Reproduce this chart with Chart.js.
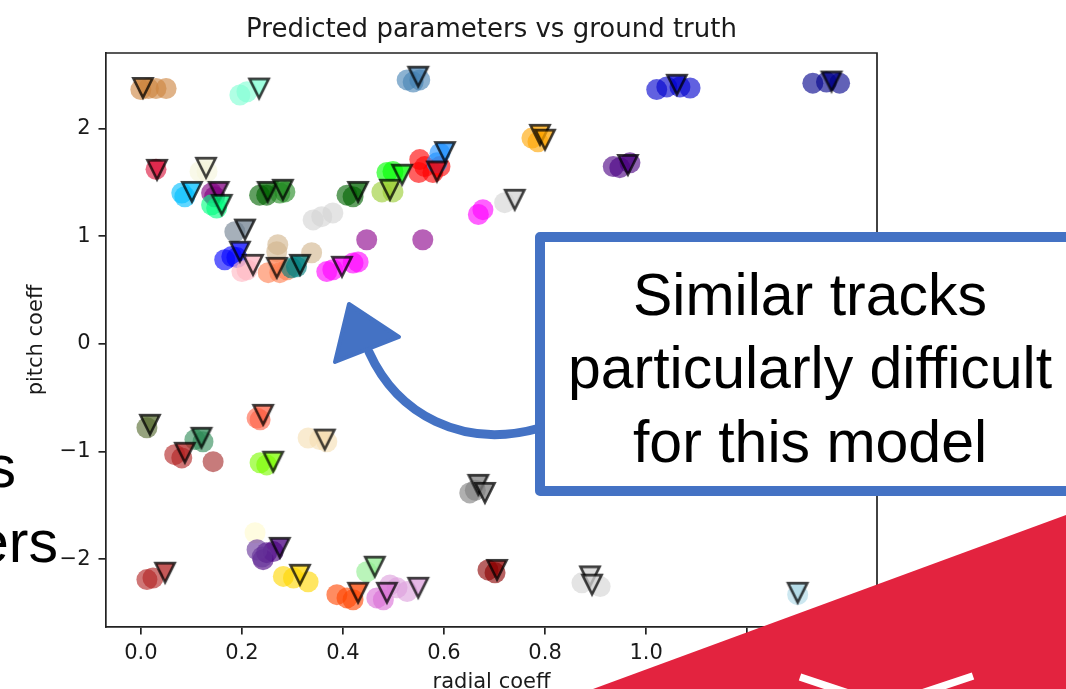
<!DOCTYPE html>
<html>
<head>
<meta charset="utf-8">
<script src="https://cdn.jsdelivr.net/npm/chart.js@4.4.1/dist/chart.umd.min.js"></script>
<style>
  html, body { margin: 0; padding: 0; background: #fff; }
  canvas { display: block; }
</style>
</head>
<body>
<canvas id="c" width="1066" height="689"></canvas>
<script>
// Ground-truth parameters (one triangle per track)
const truthX = [0.004, 0.234, 0.549, 0.032, 0.129, 0.101, 0.154, 0.16, 0.251, 0.281,
  0.43, 0.493, 0.517, 0.586, 0.602, 0.206, 0.196, 0.222, 0.269, 0.315,
  0.398, 0.74, 0.79, 0.80, 0.964, 1.061, 1.367,
  0.018, 0.12, 0.087, 0.242, 0.262, 0.364, 0.275, 0.315, 0.048, 0.463,
  0.43, 0.487, 0.549, 0.668, 0.681, 0.705, 0.889, 0.893, 1.30];
const truthY = [2.375, 2.37, 2.48, 1.615, 1.634, 1.41, 1.41, 1.29, 1.41, 1.43,
  1.41, 1.43, 1.57, 1.60, 1.78, 1.06, 0.855, 0.733, 0.705, 0.733,
  0.715, 1.337, 1.94, 1.895, 1.66, 2.405, 2.435,
  -0.752, -0.873, -1.012, -0.66, -1.095, -0.89, -1.895, -2.145, -2.126, -2.07,
  -2.312, -2.312, -2.266, -1.31, -1.385, -2.10, -2.16, -2.237, -2.312];
const truthColor = ['peru', 'aquamarine', 'steelblue', 'crimson', 'beige', 'deepskyblue', 'purple', 'springgreen', 'darkgreen', 'forestgreen',
  'darkgreen', 'yellowgreen', 'lime', 'red', 'dodgerblue', 'slategrey', 'blue', 'lightpink', 'coral', 'teal',
  'magenta', 'lightgrey', 'orange', 'orange', 'indigo', 'mediumblue', 'darkblue',
  'darkolivegreen', 'seagreen', 'firebrick', 'tomato', 'lawngreen', 'wheat', 'indigo', 'gold', 'firebrick', 'lightgreen',
  'orangered', 'orchid', 'plum', 'grey', 'grey', 'darkred', 'lightgrey', 'lightgrey', 'lightblue'];

// Model predictions (circles)
const predX = [0.0, 0.015, 0.03, 0.05,
  0.196, 0.21,
  0.527, 0.539, 0.552,
  0.03,
  0.117, 0.131,
  0.087, 0.081,
  0.14, 0.146,
  0.14, 0.15,
  0.235, 0.249,
  0.275, 0.285,
  0.408, 0.42,
  0.477, 0.499,
  0.487, 0.499,
  0.552, 0.55, 0.562, 0.578, 0.592,
  0.592, 0.586,
  0.341, 0.358, 0.38,
  0.186,
  0.166, 0.18, 0.19,
  0.2, 0.21,
  0.271, 0.269, 0.338,
  0.252, 0.275, 0.289,
  0.298, 0.308,
  0.368, 0.38, 0.42, 0.43,
  0.447, 0.558,
  0.668, 0.677,
  0.72,
  0.774, 0.786,
  0.935, 0.968, 0.948,
  1.021, 1.041, 1.087, 1.067,
  1.33, 1.357, 1.383,
  0.012,
  0.107, 0.123,
  0.067, 0.081,
  0.143,
  0.23, 0.236,
  0.236, 0.249,
  0.331, 0.354, 0.368,
  0.226,
  0.249, 0.262, 0.242,
  0.23, 0.24,
  0.282, 0.302, 0.331,
  0.012, 0.024,
  0.447,
  0.388, 0.408, 0.42,
  0.467, 0.48,
  0.507, 0.527, 0.493,
  0.651, 0.662,
  0.687, 0.701,
  0.873, 0.909,
  1.30];
const predY = [2.36, 2.37, 2.37, 2.37,
  2.31, 2.34,
  2.45, 2.43, 2.45,
  1.62,
  1.60, 1.60,
  1.365, 1.40,
  1.40, 1.365,
  1.29, 1.26,
  1.38, 1.38,
  1.40, 1.41,
  1.38, 1.365,
  1.41, 1.41,
  1.59, 1.60,
  1.71, 1.59, 1.645, 1.59, 1.645,
  1.77, 1.68,
  1.15, 1.18, 1.215,
  1.04,
  0.78, 0.81, 0.80,
  0.67, 0.687,
  0.92, 0.855, 0.845,
  0.66, 0.66, 0.687,
  0.705, 0.715,
  0.67, 0.687, 0.75, 0.76,
  0.966, 0.966,
  1.20, 1.245,
  1.31,
  1.91, 1.875,
  1.645, 1.68, 1.635,
  2.36, 2.385, 2.375, 2.385,
  2.42, 2.43, 2.42,
  -0.78,
  -0.89, -0.91,
  -1.03, -1.06,
  -1.095,
  -0.69, -0.706,
  -1.105, -1.125,
  -0.875, -0.89, -0.91,
  -1.755,
  -1.94, -1.93, -2.005,
  -1.913, -1.98,
  -2.16, -2.175, -2.21,
  -2.19, -2.175,
  -2.117,
  -2.33, -2.36, -2.377,
  -2.36, -2.377,
  -2.266, -2.30, -2.24,
  -1.385, -1.36,
  -2.10, -2.127,
  -2.22, -2.255,
  -2.33];
const predColor = ['peru', 'peru', 'peru', 'peru',
  'aquamarine', 'aquamarine',
  'steelblue', 'steelblue', 'steelblue',
  'crimson',
  'beige', 'beige',
  'deepskyblue', 'deepskyblue',
  'purple', 'purple',
  'springgreen', 'springgreen',
  'darkgreen', 'darkgreen',
  'forestgreen', 'forestgreen',
  'darkgreen', 'darkgreen',
  'yellowgreen', 'yellowgreen',
  'lime', 'lime',
  'red', 'red', 'red', 'red', 'red',
  'dodgerblue', 'dodgerblue',
  'lightgrey', 'lightgrey', 'lightgrey',
  'slategrey',
  'blue', 'blue', 'blue',
  'lightpink', 'lightpink',
  'tan', 'tan', 'tan',
  'coral', 'coral', 'coral',
  'teal', 'teal',
  'magenta', 'magenta', 'magenta', 'magenta',
  'darkmagenta', 'darkmagenta',
  'magenta', 'magenta',
  'lightgrey',
  'orange', 'orange',
  'indigo', 'indigo', 'indigo',
  'mediumblue', 'mediumblue', 'mediumblue', 'mediumblue',
  'darkblue', 'darkblue', 'darkblue',
  'darkolivegreen',
  'seagreen', 'seagreen',
  'firebrick', 'firebrick',
  'brown',
  'tomato', 'tomato',
  'lawngreen', 'lawngreen',
  'wheat', 'wheat', 'wheat',
  'lemonchiffon',
  'indigo', 'indigo', 'indigo',
  'rebeccapurple', 'rebeccapurple',
  'gold', 'gold', 'gold',
  'firebrick', 'firebrick',
  'lightgreen',
  'orangered', 'orangered', 'orangered',
  'orchid', 'orchid',
  'plum', 'plum', 'plum',
  'grey', 'grey',
  'darkred', 'darkred',
  'lightgrey', 'lightgrey',
  'lightblue'];

// Axis limits and tick positions
const xRange = [-0.069, 1.457];
const yRange = [-2.63, 2.70];
const xTicks = [0.0, 0.2, 0.4, 0.6, 0.8, 1.0, 1.2, 1.4];
const yTicks = [-2, -1, 0, 1, 2];

const TEXT = '#1a1a1a';
const LINE = '#222';
const MPL_FONT = 'DejaVu Sans';
const SLIDE_FONT = '"Liberation Sans", Arial, sans-serif';
const ACCENT = '#4472C4';

// named colour -> rgba with alpha
const probe = document.createElement('canvas').getContext('2d');
function withAlpha(name, a) {
  probe.fillStyle = '#000';
  probe.fillStyle = name;
  const h = probe.fillStyle;
  const r = parseInt(h.slice(1, 3), 16), g = parseInt(h.slice(3, 5), 16), b = parseInt(h.slice(5, 7), 16);
  return `rgba(${r},${g},${b},${a})`;
}

// downward triangle marker with black edge, like matplotlib's 'v'
const markerCache = {};
function truthMarker(color) {
  if (markerCache[color]) return markerCache[color];
  const s = 32, c = document.createElement('canvas');
  c.width = s; c.height = s;
  const g = c.getContext('2d');
  const h = 9.6, cx = s / 2, cy = s / 2;
  g.globalAlpha = 0.75;
  g.beginPath();
  g.moveTo(cx - h, cy - h);
  g.lineTo(cx + h, cy - h);
  g.lineTo(cx, cy + h);
  g.closePath();
  g.fillStyle = color;
  g.fill();
  g.lineWidth = 2.6;
  g.lineJoin = 'miter';
  g.strokeStyle = '#000';
  g.stroke();
  markerCache[color] = c;
  return c;
}

const truthPoints = truthX.map((x, i) => ({ x, y: truthY[i] }));
const predPoints = predX.map((x, i) => ({ x, y: predY[i] }));

// top and right spines
const framePlugin = {
  id: 'frame',
  afterDatasetsDraw(chart) {
    const { ctx, chartArea: a } = chart;
    ctx.save();
    ctx.strokeStyle = LINE;
    ctx.lineWidth = 1.7;
    ctx.beginPath();
    ctx.moveTo(a.left, a.top);
    ctx.lineTo(a.right, a.top);
    ctx.lineTo(a.right, a.bottom);
    ctx.stroke();
    ctx.restore();
  }
};

// slide elements around the figure: text fragments, callout box, arrow, corner banner
const slidePlugin = {
  id: 'slide',
  afterDraw(chart) {
    const ctx = chart.ctx;
    ctx.save();

    // body text running off the left edge
    ctx.fillStyle = '#000';
    ctx.font = '59px ' + SLIDE_FONT;
    ctx.textAlign = 'right';
    ctx.textBaseline = 'alphabetic';
    ctx.fillText('s', 16, 487);
    ctx.fillText('ers', 58, 562);

    // callout box
    ctx.fillStyle = '#fff';
    ctx.fillRect(540, 237, 540, 254);
    ctx.strokeStyle = ACCENT;
    ctx.lineWidth = 10;
    ctx.lineJoin = 'round';
    ctx.strokeRect(540, 237, 545, 254);

    ctx.fillStyle = '#000';
    ctx.textAlign = 'center';
    ctx.font = '59px ' + SLIDE_FONT;
    ctx.fillText('Similar tracks', 810, 315);
    ctx.fillText('particularly difficult', 810, 388);
    ctx.fillText('for this model', 810, 462);

    // curved arrow from the box into the cluster
    ctx.strokeStyle = ACCENT;
    ctx.lineWidth = 9;
    ctx.lineCap = 'round';
    ctx.beginPath();
    ctx.moveTo(540, 428);
    ctx.bezierCurveTo(462, 450, 397, 414, 369, 352);
    ctx.stroke();
    ctx.fillStyle = ACCENT;
    ctx.lineWidth = 4;
    ctx.beginPath();
    ctx.moveTo(349, 304);
    ctx.lineTo(399, 337);
    ctx.lineTo(335, 362);
    ctx.closePath();
    ctx.fill();
    ctx.stroke();

    // red corner banner
    ctx.fillStyle = '#E3233F';
    ctx.beginPath();
    ctx.moveTo(593, 689);
    ctx.lineTo(1066, 515);
    ctx.lineTo(1066, 689);
    ctx.closePath();
    ctx.fill();
    ctx.strokeStyle = '#fff';
    ctx.lineWidth = 7.5;
    ctx.lineCap = 'butt';
    ctx.beginPath();
    ctx.moveTo(800, 677);
    ctx.lineTo(866, 699);
    ctx.moveTo(973, 676);
    ctx.lineTo(907, 698);
    ctx.stroke();

    ctx.restore();
  }
};

const minus = v => (v < 0 ? '\u2212' + Math.abs(v) : String(v));

new Chart(document.getElementById('c'), {
  type: 'scatter',
  data: {
    datasets: [
      {
        label: 'ground truth',
        data: truthPoints,
        order: 0,
        pointRadius: 10,
        pointStyle: ctx => (ctx.dataIndex === undefined ? 'triangle' : truthMarker(truthColor[ctx.dataIndex])),
        pointBackgroundColor: 'rgba(0,0,0,0)',
        pointBorderWidth: 0
      },
      {
        label: 'predicted',
        data: predPoints,
        order: 1,
        pointStyle: 'circle',
        pointRadius: 10.5,
        pointBorderWidth: 0,
        pointBackgroundColor: ctx => (ctx.dataIndex === undefined ? 'rgba(0,0,0,0)' : withAlpha(predColor[ctx.dataIndex], 0.62))
      }
    ]
  },
  options: {
    responsive: false,
    animation: false,
    devicePixelRatio: 1,
    events: [],
    layout: { padding: { left: 0, right: 189, top: 0, bottom: 0 } },
    plugins: {
      legend: { display: false },
      tooltip: { enabled: false },
      title: {
        display: true,
        fullSize: false,
        text: 'Predicted parameters vs ground truth',
        color: TEXT,
        font: { family: MPL_FONT, size: 26, weight: 'normal', lineHeight: 1.2 },
        padding: { top: 15, bottom: 6.8 }
      }
    },
    scales: {
      x: {
        type: 'linear',
        min: xRange[0],
        max: xRange[1],
        afterBuildTicks: s => { s.ticks = xTicks.map(v => ({ value: v })); },
        afterFit: s => { s.height = 62; },
        ticks: {
          callback: v => v.toFixed(1),
          color: TEXT,
          font: { family: MPL_FONT, size: 21 },
          padding: 6,
          maxRotation: 0,
          autoSkip: false
        },
        grid: { display: true, drawOnChartArea: false, drawTicks: true, tickLength: 7.5, tickWidth: 1.7, tickColor: LINE, color: LINE, lineWidth: 1.7 },
        border: { display: true, color: LINE, width: 1.7 },
        title: { display: true, text: 'radial coeff', color: TEXT, font: { family: MPL_FONT, size: 21, lineHeight: 0.65 }, padding: { top: 0, bottom: 0 } }
      },
      y: {
        type: 'linear',
        min: yRange[0],
        max: yRange[1],
        afterBuildTicks: s => { s.ticks = yTicks.map(v => ({ value: v })); },
        afterFit: s => { s.width = 106; },
        ticks: {
          callback: v => minus(v),
          color: TEXT,
          font: { family: MPL_FONT, size: 21 },
          padding: 8,
          autoSkip: false
        },
        grid: { display: true, drawOnChartArea: false, drawTicks: true, tickLength: 7.5, tickWidth: 1.7, tickColor: LINE, color: LINE, lineWidth: 1.7 },
        border: { display: true, color: LINE, width: 1.7 },
        title: { display: true, text: 'pitch coeff', color: TEXT, font: { family: MPL_FONT, size: 21, lineHeight: 1.2 }, padding: { top: 24, bottom: 0 } }
      }
    }
  },
  plugins: [framePlugin, slidePlugin]
});
</script>
</body>
</html>
